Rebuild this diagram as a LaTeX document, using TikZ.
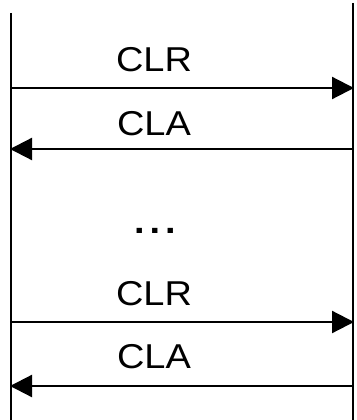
\documentclass[tikz,border=0pt]{standalone}
\usepackage{fontspec}
\setmainfont{Liberation Sans}
\usetikzlibrary{arrows.meta}
\begin{document}
\begin{tikzpicture}[x=1pt,y=-1pt,
  lifeline/.style={line width=2.2pt},
  msg/.style={line width=2.2pt,-{Triangle[length=22pt,width=22pt]},shorten >=-1pt},
  lbl/.style={font=\fontsize{34.5}{38}\selectfont,inner sep=0pt,anchor=base,xscale=1.1}]
\useasboundingbox (0,0) rectangle (356,420);
% lifelines
\coordinate (Atop) at (11,13);
\coordinate (Abot) at (11,420);
\coordinate (Btop) at (353,3);
\coordinate (Bbot) at (353,420);
\draw[lifeline] (Atop) -- (Abot);
\draw[lifeline] (Btop) -- (Bbot);
% message end points
\coordinate (a1) at (11,88);  \coordinate (b1) at (353,88);
\coordinate (a2) at (11,149); \coordinate (b2) at (353,149);
\coordinate (a3) at (11,322); \coordinate (b3) at (353,322);
\coordinate (a4) at (11,386); \coordinate (b4) at (353,386);
\draw[msg] (a1) -- (b1);
\draw[msg] (b2) -- (a2);
\draw[msg] (a3) -- (b3);
\draw[msg] (b4) -- (a4);
% labels
\node[lbl] (l1) at (154,71) {CLR};
\node[lbl] (l2) at (154,135) {CLA};
\node[lbl,font=\fontsize{34.5}{38}\selectfont\bfseries] (dots) at (155,233) {.\kern4.5pt.\kern4.5pt.};
\node[lbl] (l3) at (154,305) {CLR};
\node[lbl] (l4) at (154,368) {CLA};
\end{tikzpicture}
\end{document}
